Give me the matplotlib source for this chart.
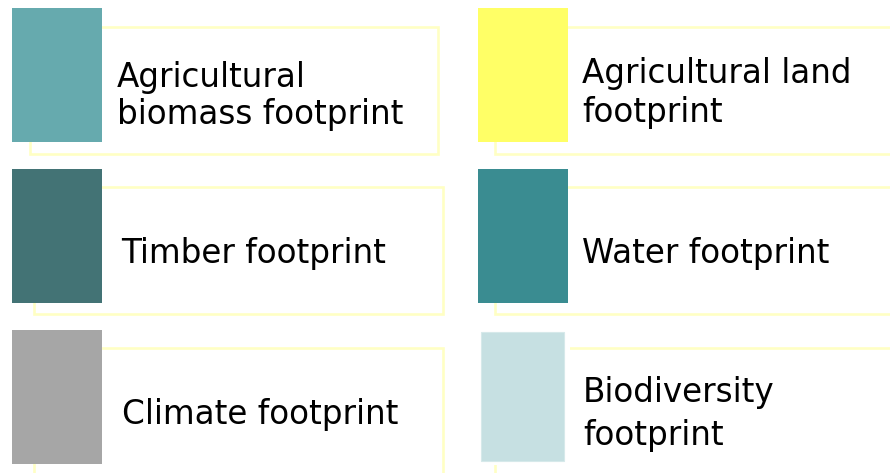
import matplotlib
matplotlib.use("Agg")
import matplotlib.pyplot as plt
from matplotlib.patches import Rectangle

# ---- data ----
labels = [
    "Agricultural\nbiomass footprint",
    "Agricultural land\nfootprint",
    "Timber footprint",
    "Water footprint",
    "Climate footprint",
    "Biodiversity\nfootprint",
]
colors = ["#66AAAE", "#FFFF66", "#437375", "#3A8C91", "#A6A6A6", "#C6E0E2"]

# ---- layout (pixels, origin top-left) ----
swatches = [(12, 8, 102, 142), (478, 8, 568, 142),
            (12, 169, 102, 303), (478, 169, 568, 303),
            (12, 330, 102, 464), (481, 332, 564, 461)]
frames = [(30, 27, 438, 154), (495, 27, 900, 154),
          (34, 187, 443, 314), (495, 187, 900, 314),
          (34, 348, 443, 490), (495, 348, 900, 490)]
text_x = [117, 582, 121, 582, 122, 583]
baselines = [[87, 124], [83, 122], [263], [263], [424], [402, 445]]

W, H = 890, 473
fig = plt.figure(figsize=(W / 100, H / 100), dpi=100)
ax = fig.add_axes([0, 0, 1, 1])
ax.set_xlim(0, W)
ax.set_ylim(H, 0)
ax.axis("off")

frame_color = "#FFFFC4"
for i, lab in enumerate(labels):
    fx0, fy0, fx1, fy1 = frames[i]
    ax.add_patch(Rectangle((fx0, fy0), fx1 - fx0, fy1 - fy0, fill=False,
                           edgecolor=frame_color, linewidth=1.9, zorder=1))
    sx0, sy0, sx1, sy1 = swatches[i]
    if i == 5:
        ax.add_patch(Rectangle((sx0 - 3, sy0 - 3), sx1 - sx0 + 9, sy1 - sy0 + 7,
                               facecolor="white", edgecolor="none", zorder=2))
        ax.add_patch(Rectangle((sx0, sy0), sx1 - sx0, sy1 - sy0,
                               facecolor=colors[i], edgecolor="#D6E9EA",
                               linewidth=0.8, zorder=3))
    else:
        ax.add_patch(Rectangle((sx0, sy0), sx1 - sx0, sy1 - sy0,
                               facecolor=colors[i], edgecolor="none", zorder=3))
    for line, by in zip(lab.split("\n"), baselines[i]):
        ax.text(text_x[i], by, line, fontsize=23.5, family="DejaVu Sans",
                color="black", ha="left", va="baseline", zorder=4)

fig.savefig("out.png", dpi=100, facecolor="white")
